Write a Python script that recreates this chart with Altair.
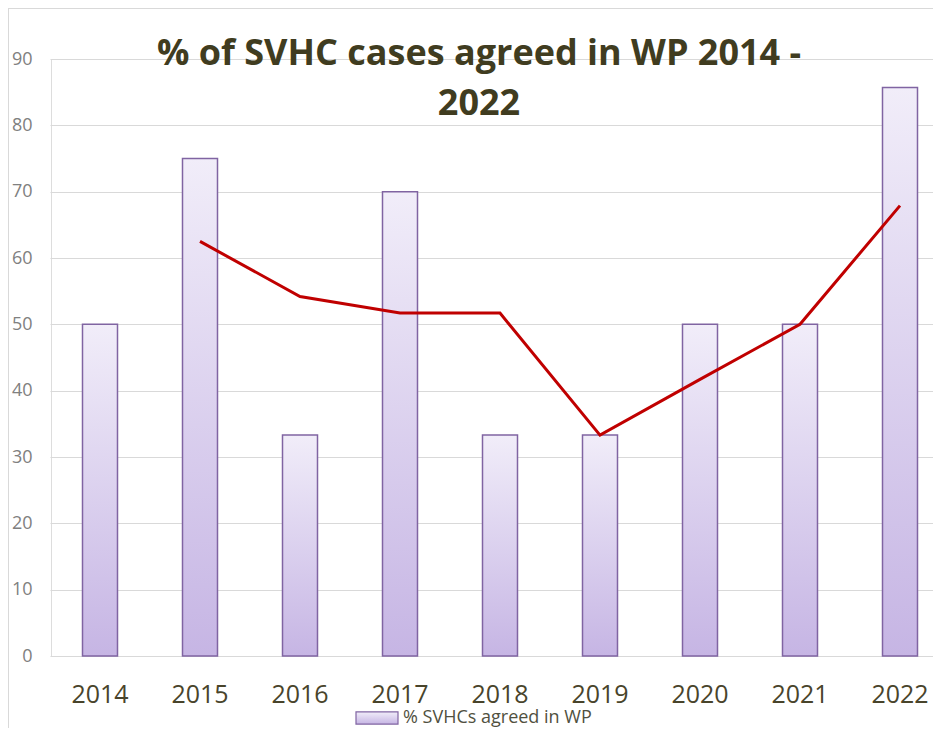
import altair as alt
import pandas as pd

years = ["2014", "2015", "2016", "2017", "2018", "2019", "2020", "2021", "2022"]
pct_agreed = [50, 75, 33.3, 70, 33.3, 33.3, 50, 50, 85.7]
trend_years = ["2015", "2016", "2017", "2018", "2019", "2020", "2021", "2022"]
trend_values = [62.5, 54.2, 51.7, 51.7, 33.3, 41.7, 50.0, 67.9]
series_name = "% SVHCs agreed in WP"
y_ticks = [0, 10, 20, 30, 40, 50, 60, 70, 80, 90]
title_lines = ["% of SVHC cases agreed in WP 2014 -", "2022"]

bars_df = pd.DataFrame({"year": years, "value": pct_agreed, "series": series_name})
trend_df = pd.DataFrame({"year": trend_years, "value": trend_values})
one_row = pd.DataFrame({"k": [0]})

FONT = "Open Sans"
OLIVE = "#49442b"
W, H = 882, 597

x_scale = alt.Scale(paddingInner=0, paddingOuter=0, range=[-1, 899])
x_axis = alt.Axis(
    title=None, labelAngle=0, domain=False, ticks=False, grid=False,
    labelFontSize=25, labelColor=OLIVE, labelFont=FONT, labelPadding=26,
)
y_scale = alt.Scale(domain=[0, 90], nice=False, zero=True)
y_axis = alt.Axis(
    title=None, values=y_ticks, domain=False, ticks=False,
    grid=True, gridColor="#d9d9d9", gridWidth=1.2,
    labelFontSize=18, labelColor="#808080", labelFont=FONT, labelPadding=19,
)

gradient = alt.LinearGradient(
    gradient="linear",
    stops=[
        alt.GradientStop(color="#f1edf9", offset=0),
        alt.GradientStop(color="#c6b5e4", offset=1),
    ],
    x1=0, x2=0, y1=0, y2=1,
)

bars = alt.Chart(bars_df).mark_bar(
    size=35, fill=gradient, strokeWidth=1.5
).encode(
    x=alt.X("year:N", sort=years, scale=x_scale, axis=x_axis),
    y=alt.Y("value:Q", scale=y_scale, axis=y_axis),
    stroke=alt.Stroke(
        "series:N",
        scale=alt.Scale(domain=[series_name], range=["#8064a2"]),
        legend=alt.Legend(
            title=None, orient="none", legendX=304, legendY=637, padding=0,
            symbolType="M-1,-0.29L1,-0.29L1,0.29L-1,0.29Z", symbolSize=1764,
            symbolFillColor="#d9cff0", symbolStrokeWidth=1.2, symbolOpacity=1,
            labelFontSize=18, labelColor="#505040", labelFont=FONT, labelOffset=4,
            labelLimit=400,
        ),
    ),
)

line = alt.Chart(trend_df).mark_line(color="#c00000", strokeWidth=3).encode(
    x=alt.X("year:N", sort=years, scale=x_scale, axis=x_axis),
    y=alt.Y("value:Q", scale=y_scale, axis=y_axis),
)

border_left = alt.Chart(one_row).mark_rect(color="#d9d9d9").encode(
    x=alt.value(-43), x2=alt.value(-42), y=alt.value(-51), y2=alt.value(H + 72)
)
border_top = alt.Chart(one_row).mark_rect(color="#d9d9d9").encode(
    x=alt.value(-43), x2=alt.value(W), y=alt.value(-51), y2=alt.value(-50)
)

title = alt.Chart(one_row).mark_text(
    text=title_lines, font=FONT, fontSize=36, fontWeight="bold",
    color="#403c20", align="center", baseline="alphabetic", lineHeight=50,
).encode(x=alt.value(428), y=alt.value(6))

chart = alt.layer(border_left, border_top, bars, line, title).properties(
    width=W,
    height=H,
    autosize=alt.AutoSizeParams(type="none"),
    padding={"left": 43, "top": 51, "right": 0, "bottom": 72},
).configure_view(strokeWidth=0).configure_axis(domain=False, ticks=False).configure(
    background="white"
)

chart.save("out.html", embed_options={"renderer": "svg", "actions": False})
